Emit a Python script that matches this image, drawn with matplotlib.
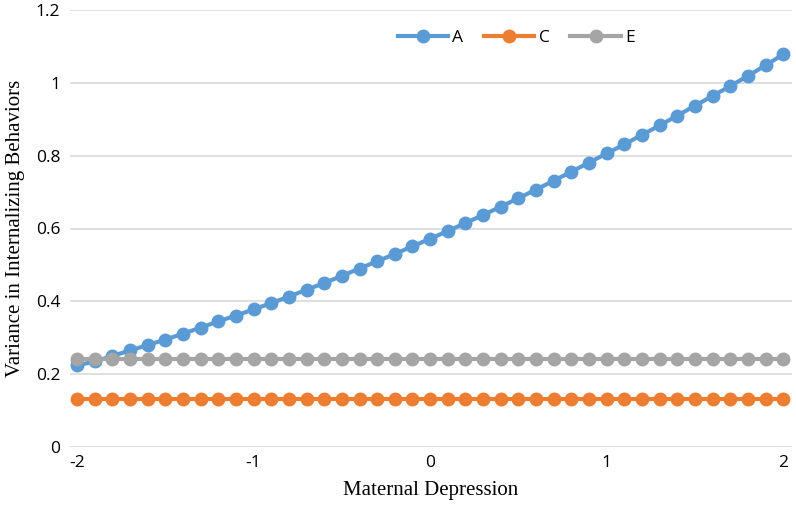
import matplotlib.pyplot as plt
import numpy as np

x_vals = np.round(np.arange(-2.0, 2.01, 0.1), 1)
a_vals = [0.224, 0.235, 0.250, 0.265, 0.280, 0.295, 0.311, 0.328, 0.345, 0.361,
          0.378, 0.395, 0.413, 0.432, 0.450, 0.470, 0.490, 0.510, 0.530, 0.551,
          0.572, 0.593, 0.615, 0.637, 0.660, 0.683, 0.707, 0.731, 0.756, 0.781,
          0.806, 0.831, 0.857, 0.883, 0.910, 0.937, 0.964, 0.991, 1.019, 1.048,
          1.078]
c_vals = [0.131] * len(x_vals)
e_vals = [0.242] * len(x_vals)

series = [("A", a_vals, "#5B9BD5"), ("C", c_vals, "#ED7D31"), ("E", e_vals, "#A5A5A5")]

fig = plt.figure(figsize=(7.96, 5.07), dpi=100)
ax = fig.add_axes([70 / 796, 60 / 507, 722 / 796, 437 / 507])

for name, vals, color in series:
    ax.plot(x_vals, vals, color=color, lw=3, marker="o", markersize=9, label=name)

ax.set_xlim(-2.04, 2.05)
ax.set_ylim(0, 1.2)
ax.set_yticks([0, 0.2, 0.4, 0.6, 0.8, 1.0, 1.2], labels=["0", "0.2", "0.4", "0.6", "0.8", "1", "1.2"])
ax.set_xticks([-2, -1, 0, 1, 2], labels=["-2", "-1", "0", "1", "2"])
ax.grid(True, axis="y", color="#D9D9D9", lw=1.2)
ax.set_axisbelow(True)
for side in ["top", "right", "left", "bottom"]:
    ax.spines[side].set_visible(False)
ax.tick_params(length=0, labelsize=12.5, colors="#000000")
ax.tick_params(axis="y", pad=7)
ax.tick_params(axis="x", pad=6)
for lab in ax.get_xticklabels() + ax.get_yticklabels():
    lab.set_family("Open Sans")

ax.set_xlabel("Maternal Depression", family="Liberation Serif", fontsize=15, labelpad=7)
ax.set_ylabel("Variance in Internalizing Behaviors", family="Liberation Serif", fontsize=15, labelpad=8)

leg = ax.legend(loc="upper center", bbox_to_anchor=(0.618, 0.99), ncol=3, frameon=False,
                handlelength=2.9, columnspacing=1.2, handletextpad=0.25,
                prop={"family": "Open Sans", "size": 12.5})

fig.savefig("out.png", dpi=100)
